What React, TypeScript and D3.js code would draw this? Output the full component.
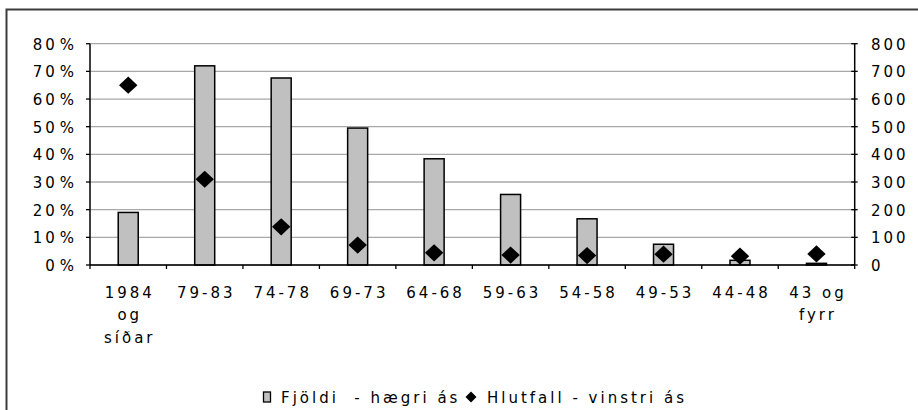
import React from "react";
import * as d3 from "d3";

const categories = [
  "1984\nog\nsíðar",
  "79-83",
  "74-78",
  "69-73",
  "64-68",
  "59-63",
  "54-58",
  "49-53",
  "44-48",
  "43 og\nfyrr",
];
const counts = [190, 720, 676, 495, 384, 255, 167, 75, 17, 6];
const shares = [65, 31, 13.8, 7.2, 4.4, 3.6, 3.4, 3.9, 3.2, 4.0];
const leftTicks = [0, 10, 20, 30, 40, 50, 60, 70, 80];
const rightTicks = [0, 100, 200, 300, 400, 500, 600, 700, 800];
const legendBar = "Fjöldi  - hægri ás";
const legendDot = "Hlutfall - vinstri ás";

const W = 918;
const H = 410;
const plotL = 90;
const plotR = 854.7;
const plotT = 43.7;
const plotB = 265;
const font = "'DejaVu Sans', Verdana, sans-serif";
const fs = 15;
const ls = 3;

export default function App() {
  const x = d3.scaleBand<string>().domain(categories).range([plotL, plotR]).paddingInner(0).paddingOuter(0);
  const yL = d3.scaleLinear().domain([0, 80]).range([plotB, plotT]);
  const yR = d3.scaleLinear().domain([0, 800]).range([plotB, plotT]);
  const barW = 20;
  const dW = 9.2;
  const dH = 8.6;
  const diamond = (cx: number, cy: number, w: number, h: number) =>
    `M${cx},${cy - h}L${cx + w},${cy}L${cx},${cy + h}L${cx - w},${cy}Z`;

  const boundaries = categories.map((c) => x(c) as number).concat([plotR]);

  return (
    <div style={{ position: "absolute", left: 0, top: 0, width: W, height: H, background: "#fff" }}>
      <svg width={W} height={H} style={{ display: "block" }} fontFamily={font}>
        <rect x={0} y={0} width={W} height={H} fill="#fff" />
        <rect x={6.5} y={9.5} width={W + 20} height={H + 20} fill="none" stroke="#3c3c3c" strokeWidth={2} />
        {/* gridlines */}
        {leftTicks.map((t) => (
          <line key={"g" + t} x1={plotL} x2={plotR} y1={yL(t)} y2={yL(t)} stroke="#a8a8a8" strokeWidth={1.3} />
        ))}
        {/* bars */}
        {counts.map((v, i) => {
          const cx = (x(categories[i]) as number) + x.bandwidth() / 2;
          return (
            <rect
              key={"b" + i}
              x={cx - barW / 2}
              y={yR(v)}
              width={barW}
              height={plotB - yR(v)}
              fill="#c0c0c0"
              stroke="#000"
              strokeWidth={1.5}
            />
          );
        })}
        {/* axes */}
        <line x1={plotL} x2={plotL} y1={plotT} y2={plotB} stroke="#000" strokeWidth={1.5} />
        <line x1={plotR} x2={plotR} y1={plotT} y2={plotB} stroke="#000" strokeWidth={1.5} />
        <line x1={plotL} x2={plotR} y1={plotB} y2={plotB} stroke="#000" strokeWidth={1.5} />
        {leftTicks.map((t) => (
          <line key={"lt" + t} x1={plotL - 4} x2={plotL} y1={yL(t)} y2={yL(t)} stroke="#000" strokeWidth={1.3} />
        ))}
        {rightTicks.map((t) => (
          <line key={"rt" + t} x1={plotR - 3.5} x2={plotR + 3} y1={yR(t)} y2={yR(t)} stroke="#000" strokeWidth={1.3} />
        ))}
        {boundaries.map((bx, i) => (
          <line key={"xt" + i} x1={bx} x2={bx} y1={plotB} y2={plotB + 4} stroke="#000" strokeWidth={1.3} />
        ))}
        {/* diamonds */}
        {shares.map((v, i) => {
          const cx = (x(categories[i]) as number) + x.bandwidth() / 2;
          return <path key={"d" + i} d={diamond(cx, yL(v), dW, dH)} fill="#000" />;
        })}
        {/* left labels */}
        {leftTicks.map((t) => (
          <text
            key={"ll" + t}
            x={74 + ls}
            y={yL(t) + 6}
            fontSize={fs}
            letterSpacing={ls}
            textAnchor="end"
            fill="#000"
          >
            {t}
            <tspan dx={2}>%</tspan>
          </text>
        ))}
        {/* right labels */}
        {rightTicks.map((t) => (
          <text key={"rl" + t} x={871} y={yR(t) + 6} fontSize={fs} letterSpacing={ls} fill="#000">
            {t}
          </text>
        ))}
        {/* x labels */}
        {categories.map((c, i) => {
          const cx = (x(c) as number) + x.bandwidth() / 2;
          const lines = c.split("\n");
          return (
            <text key={"xl" + i} fontSize={fs} letterSpacing={ls} textAnchor="middle" fill="#000">
              {lines.map((ln, j) => (
                <tspan key={j} x={cx + ls / 2} y={297.5 + j * 22.5}>
                  {ln}
                </tspan>
              ))}
            </text>
          );
        })}
        {/* legend */}
        <rect x={263.5} y={392} width={7} height={10} fill="#c0c0c0" stroke="#000" strokeWidth={1.3} />
        <text x={281} y={403} fontSize={fs} letterSpacing={ls} fill="#000" style={{ whiteSpace: "pre" }}>
          {legendBar}
        </text>
        <path d={diamond(471, 397, 5.5, 5.5)} fill="#000" />
        <text x={487} y={403} fontSize={fs} letterSpacing={ls} fill="#000" style={{ whiteSpace: "pre" }}>
          {legendDot}
        </text>
      </svg>
    </div>
  );
}
